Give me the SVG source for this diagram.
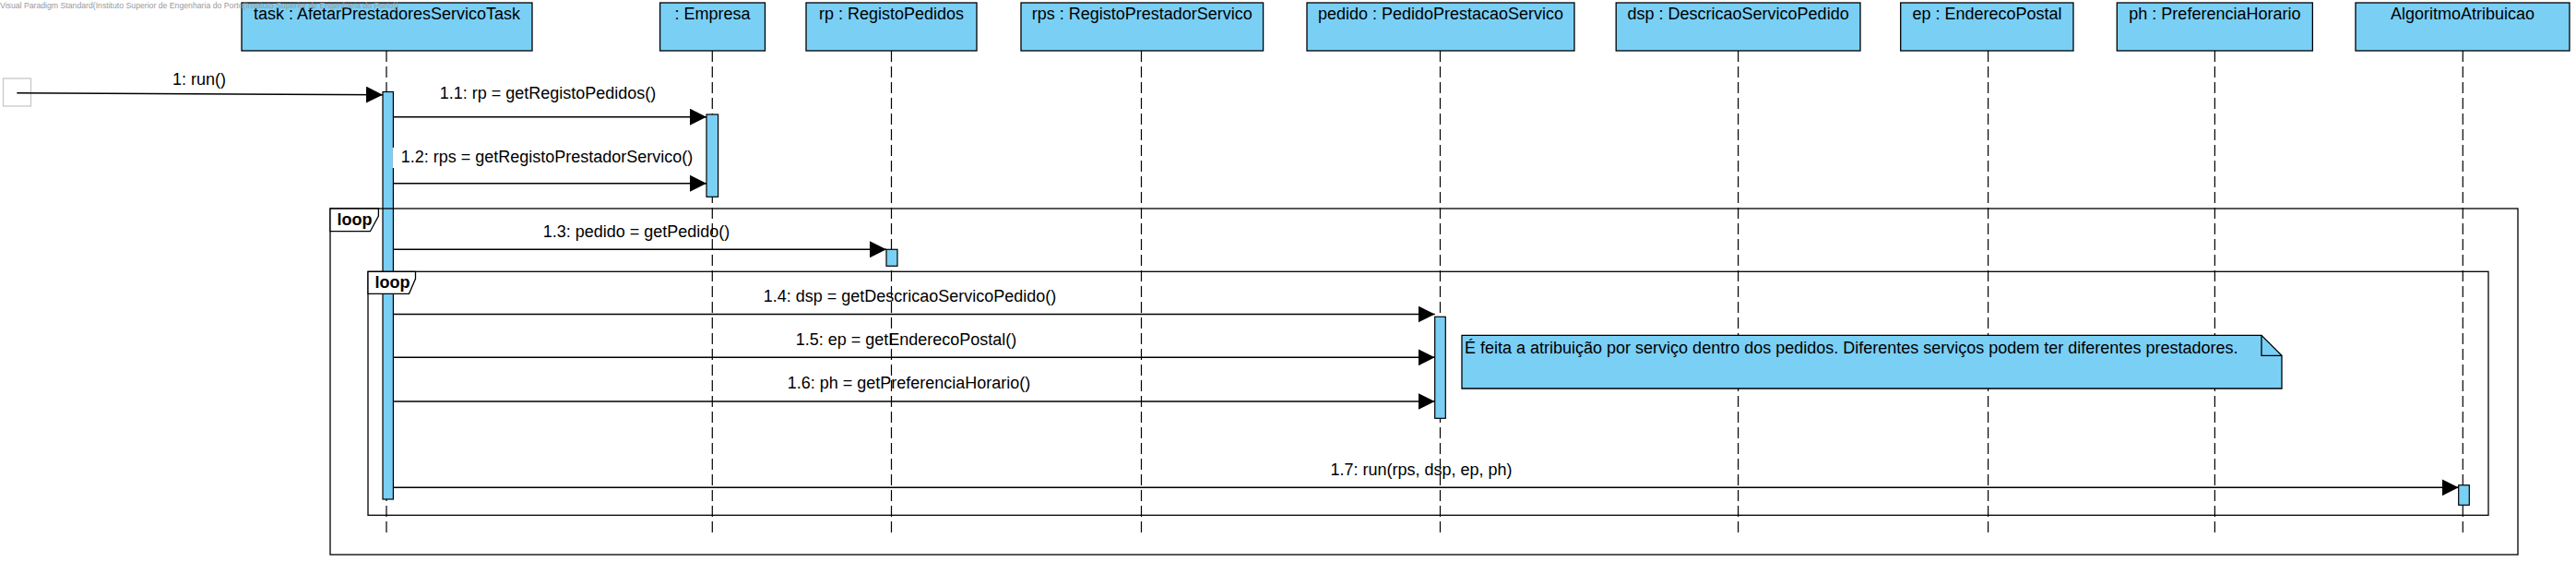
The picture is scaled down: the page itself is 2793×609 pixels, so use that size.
<svg xmlns="http://www.w3.org/2000/svg" width="2793" height="609" viewBox="0 0 2793 609">
<defs>
<style>
text { font-family: "Liberation Sans", Arial, sans-serif; font-size: 18px; fill: #000; }
.c { text-anchor: middle; }
.b { font-weight: bold; }
.head { fill: #7ACFF5; stroke: #000; stroke-width: 1.3; }
.act { fill: #7ACFF5; stroke: #000; stroke-width: 1.2; }
.life { stroke: #000; stroke-width: 1.2; stroke-dasharray: 12 5; fill: none; }
.msg { stroke: #000; stroke-width: 1.5; fill: none; marker-end: url(#ah); }
.frame { fill: none; stroke: #000; stroke-width: 1.3; }
.tag { fill: #fff; stroke: #000; stroke-width: 1.3; }
.note { fill: #7ACFF5; stroke: #000; stroke-width: 1.3; }
.wm { font-size: 8.7px; fill: #9a9a9a; }
</style>
<marker id="ah" markerUnits="userSpaceOnUse" markerWidth="18" markerHeight="18" viewBox="0 0 18 18" refX="18" refY="9" orient="auto">
<path d="M0,0 L18,9 L0,18 z" fill="#000"/>
</marker>
</defs>
<rect width="2793" height="609" fill="#fff"/>

<g id="found">
<rect x="3.5" y="85" width="30" height="30" fill="#fff" stroke="#c8c8c8" stroke-width="1.3"/>
</g>

<g id="task">
<line class="life" x1="419" y1="55" x2="419" y2="577"/>
<rect class="head" x="262" y="3" width="315" height="52"/>
<text class="c" x="419.5" y="21">task : AfetarPrestadoresServicoTask</text>
<rect class="act" x="415" y="99.5" width="11.4" height="441.5"/>
</g>

<g id="empresa">
<line class="life" x1="772.3" y1="55" x2="772.3" y2="577"/>
<rect class="head" x="715.6" y="3" width="113.9" height="52"/>
<text class="c" x="772.5" y="21">: Empresa</text>
<rect class="act" x="766" y="124" width="12.6" height="89.3"/>
</g>

<g id="rp">
<line class="life" x1="966.5" y1="55" x2="966.5" y2="577"/>
<rect class="head" x="874" y="3" width="185" height="52"/>
<text class="c" x="966.5" y="21">rp : RegistoPedidos</text>
<rect class="act" x="961" y="270.3" width="12" height="18"/>
</g>

<g id="rps">
<line class="life" x1="1237.5" y1="55" x2="1237.5" y2="577"/>
<rect class="head" x="1107" y="3" width="262.6" height="52"/>
<text class="c" x="1238.3" y="21">rps : RegistoPrestadorServico</text>
</g>

<g id="pedido">
<line class="life" x1="1561.5" y1="55" x2="1561.5" y2="577"/>
<rect class="head" x="1417" y="3" width="290" height="52"/>
<text class="c" x="1562" y="21">pedido : PedidoPrestacaoServico</text>
<rect class="act" x="1555.7" y="343.3" width="11.6" height="110"/>
</g>

<g id="dsp">
<line class="life" x1="1884.6" y1="55" x2="1884.6" y2="577"/>
<rect class="head" x="1752.2" y="3" width="264.8" height="52"/>
<text class="c" x="1884.6" y="21">dsp : DescricaoServicoPedido</text>
</g>

<g id="ep">
<line class="life" x1="2155.6" y1="55" x2="2155.6" y2="577"/>
<rect class="head" x="2060.7" y="3" width="187.3" height="52"/>
<text class="c" x="2154.5" y="21">ep : EnderecoPostal</text>
</g>

<g id="ph">
<line class="life" x1="2401.4" y1="55" x2="2401.4" y2="577"/>
<rect class="head" x="2295.3" y="3" width="212.1" height="52"/>
<text class="c" x="2401.4" y="21">ph : PreferenciaHorario</text>
</g>

<g id="algoritmo">
<line class="life" x1="2670.3" y1="55" x2="2670.3" y2="577"/>
<rect class="head" x="2554" y="3" width="232" height="52"/>
<text class="c" x="2670" y="21">AlgoritmoAtribuicao</text>
<rect class="act" x="2665.7" y="525.7" width="11.6" height="21.6"/>
</g>

<g id="loop-outer">
<rect class="frame" x="358" y="226" width="2372" height="375"/>
<polygon class="tag" points="358,226 410.4,226 410.4,234 401.4,250.7 358,250.7"/>
<text class="b" x="365.5" y="243.5">loop</text>
</g>

<g id="loop-inner">
<rect class="frame" x="399" y="294.3" width="2299" height="264"/>
<polygon class="tag" points="399,294.3 450.5,294.3 450.5,302 443.5,318.3 399,318.3"/>
<text class="b" x="406.5" y="311.5">loop</text>
</g>

<g id="connectors">
<line class="msg" x1="18.3" y1="100.7" x2="415" y2="102.7"/>
<text class="c" x="216" y="92">1: run()</text>

<line class="msg" x1="426.4" y1="126.7" x2="766" y2="126.7"/>
<text class="c" x="594" y="107">1.1: rp = getRegistoPedidos()</text>

<rect x="425.7" y="160" width="332" height="22" fill="#fff"/>
<line class="msg" x1="426.4" y1="198.7" x2="766" y2="198.7"/>
<text class="c" x="593" y="176">1.2: rps = getRegistoPrestadorServico()</text>

<line class="msg" x1="426.4" y1="270.3" x2="961" y2="270.3"/>
<text class="c" x="690" y="257">1.3: pedido = getPedido()</text>

<line class="msg" x1="426.4" y1="340.5" x2="1555.7" y2="340.5"/>
<text class="c" x="986.5" y="327">1.4: dsp = getDescricaoServicoPedido()</text>

<line class="msg" x1="426.4" y1="387.3" x2="1555.7" y2="387.3"/>
<text class="c" x="982.5" y="374">1.5: ep = getEnderecoPostal()</text>

<line class="msg" x1="426.4" y1="435" x2="1555.7" y2="435"/>
<text class="c" x="985.5" y="420.5">1.6: ph = getPreferenciaHorario()</text>

<line class="msg" x1="426.4" y1="528.3" x2="2665.7" y2="528.3"/>
<text class="c" x="1541" y="515">1.7: run(rps, dsp, ep, ph)</text>
</g>

<g id="note">
<polygon class="note" points="1585,363.3 2452,363.3 2474,385.3 2474,421 1585,421"/>
<polyline points="2452,363.3 2452,385.3 2474,385.3" fill="none" stroke="#000" stroke-width="1.3"/>
<text x="1588" y="383.3">É feita a atribuição por serviço dentro dos pedidos. Diferentes serviços podem ter diferentes prestadores.</text>
</g>

<text class="wm" x="0" y="8.5">Visual Paradigm Standard(Instituto Superior de Engenharia do Porto(Instituto Superior de Engenharia do Porto))</text>
</svg>
